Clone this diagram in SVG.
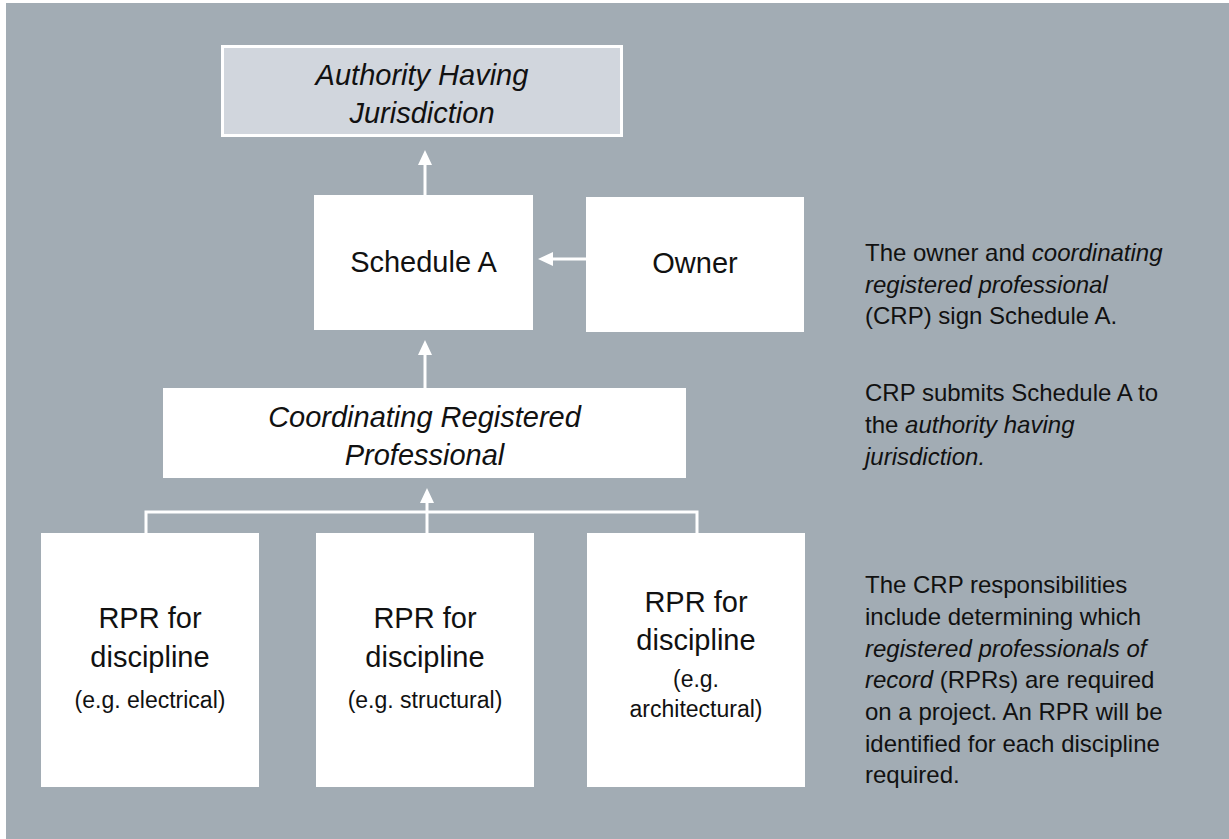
<svg xmlns="http://www.w3.org/2000/svg" width="1229" height="839" viewBox="0 0 1229 839">
<defs>
<marker id="ah" viewBox="0 0 15 14" refX="1" refY="7" markerWidth="15" markerHeight="14" markerUnits="userSpaceOnUse" orient="auto">
<path d="M0,0 L15,7 L0,14 z" fill="#ffffff"/>
</marker>
<style>
.box{fill:#ffffff;}
.ahj{fill:#D1D6DD;stroke:#ffffff;stroke-width:3;}
.t{font-family:"Liberation Sans",Arial,sans-serif;fill:#111111;}
.big{font-size:29px;text-anchor:middle;}
.small{font-size:23px;text-anchor:middle;}
.note{font-size:24px;}
.i{font-style:italic;}
.c{fill:none;stroke:#ffffff;stroke-width:3;}
</style>
</defs>
<rect x="6" y="3" width="1223" height="836" fill="#A2ACB4"/>
<g id="connectors">
<line class="c" x1="425" y1="195" x2="425" y2="164" marker-end="url(#ah)"/>
<line class="c" x1="586" y1="259" x2="552" y2="259" marker-end="url(#ah)"/>
<line class="c" x1="425" y1="388" x2="425" y2="354" marker-end="url(#ah)"/>
<path class="c" d="M146,533 V512 H697 V533"/>
<line class="c" x1="427" y1="533" x2="427" y2="502" marker-end="url(#ah)"/>
</g>
<g id="ahj">
<rect class="ahj" x="222.5" y="46.5" width="399" height="89"/>
<text class="t big i" x="422" y="85">Authority Having</text>
<text class="t big i" x="422" y="123">Jurisdiction</text>
</g>
<g id="schedule-a">
<rect class="box" x="314" y="195" width="219" height="135"/>
<text class="t big" x="423.5" y="272">Schedule A</text>
</g>
<g id="owner">
<rect class="box" x="586" y="197" width="218" height="135"/>
<text class="t big" x="695" y="273">Owner</text>
</g>
<g id="crp">
<rect class="box" x="163" y="388" width="523" height="90"/>
<text class="t big i" x="424.5" y="427">Coordinating Registered</text>
<text class="t big i" x="424.5" y="465">Professional</text>
</g>
<g id="rpr-electrical">
<rect class="box" x="41" y="533" width="218" height="254"/>
<text class="t big" x="150" y="628">RPR for</text>
<text class="t big" x="150" y="667">discipline</text>
<text class="t small" x="150" y="708">(e.g. electrical)</text>
</g>
<g id="rpr-structural">
<rect class="box" x="316" y="533" width="218" height="254"/>
<text class="t big" x="425" y="628">RPR for</text>
<text class="t big" x="425" y="667">discipline</text>
<text class="t small" x="425" y="708">(e.g. structural)</text>
</g>
<g id="rpr-architectural">
<rect class="box" x="587" y="533" width="218" height="254"/>
<text class="t big" x="696" y="612">RPR for</text>
<text class="t big" x="696" y="650">discipline</text>
<text class="t small" x="696" y="687">(e.g.</text>
<text class="t small" x="696" y="717">architectural)</text>
</g>
<g id="notes">
<text class="t note" x="865" y="261">The owner and <tspan class="i">coordinating</tspan></text>
<text class="t note i" x="865" y="292.5">registered professional</text>
<text class="t note" x="865" y="324">(CRP) sign Schedule A.</text>
<text class="t note" x="865" y="401">CRP submits Schedule A to</text>
<text class="t note" x="865" y="433">the <tspan class="i">authority having</tspan></text>
<text class="t note i" x="865" y="465">jurisdiction.</text>
<text class="t note" x="865" y="593">The CRP responsibilities</text>
<text class="t note" x="865" y="625">include determining which</text>
<text class="t note i" x="865" y="657">registered professionals of</text>
<text class="t note" x="865" y="688"><tspan class="i">record</tspan> (RPRs) are required</text>
<text class="t note" x="865" y="720">on a project. An RPR will be</text>
<text class="t note" x="865" y="752">identified for each discipline</text>
<text class="t note" x="865" y="783">required.</text>
</g>
</svg>
